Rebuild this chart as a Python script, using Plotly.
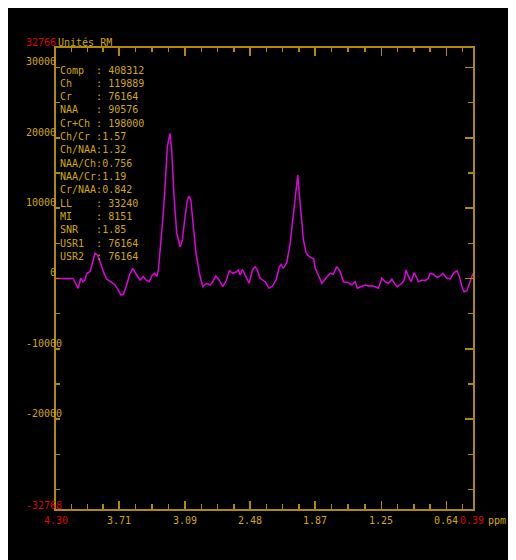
import plotly.graph_objects as go

# ---------------- data ----------------
ppm = [4.300, 4.141, 4.091, 4.068, 4.050, 4.028, 4.012, 3.981, 3.959, 3.934,
       3.913, 3.887, 3.856, 3.824, 3.787, 3.747, 3.716, 3.690, 3.669, 3.637,
       3.612, 3.580, 3.543, 3.512, 3.481, 3.456, 3.425, 3.402, 3.378, 3.355,
       3.340, 3.324, 3.299, 3.277, 3.256, 3.231, 3.215, 3.193, 3.168, 3.137,
       3.115, 3.090, 3.068, 3.052, 3.036, 3.018, 2.987, 2.956, 2.924, 2.886,
       2.855, 2.830, 2.802, 2.771, 2.736, 2.705, 2.674, 2.642, 2.611, 2.590,
       2.574, 2.552, 2.527, 2.489, 2.458, 2.433, 2.412, 2.386, 2.339, 2.302,
       2.271, 2.236, 2.205, 2.189, 2.168, 2.136, 2.105, 2.074, 2.051, 2.033,
       2.011, 1.980, 1.955, 1.933, 1.901, 1.884, 1.870, 1.839, 1.807, 1.777,
       1.730, 1.699, 1.667, 1.636, 1.605, 1.558, 1.526, 1.495, 1.474, 1.442,
       1.401, 1.370, 1.338, 1.307, 1.277, 1.245, 1.214, 1.183, 1.151, 1.120,
       1.098, 1.057, 1.035, 1.017, 0.995, 0.970, 0.942, 0.916, 0.901, 0.869,
       0.838, 0.808, 0.792, 0.761, 0.729, 0.698, 0.672, 0.635, 0.604, 0.573,
       0.541, 0.517, 0.494, 0.473, 0.447, 0.423, 0.400, 0.390]

intensity = [0, 0, -1390, 70, -460, -210, 740, 970, 2160, 3580,
             3340, 2390, 970, -110, -460, -920, -1640, -2350, -2250, -920,
             500, 1450, 500, -210, 260, -210, -460, 360, 740, 260,
             1210, 3580, 8320, 13050, 18740, 20640, 18270, 11630, 6430, 4520,
             5470, 8790, 11160, 11730, 11160, 8320, 3580, 740, -1170, -680,
             -920, -460, 360, -210, -1170, -360, 1110, 740, 920, 1210,
             500, 1280, 500, -680, 1210, 1680, 1210, 30, -460, -1390,
             -1070, -210, 1680, 1990, 1420, 2280, 4900, 9270, 13050, 14710,
             10700, 5470, 3630, 3200, 2910, 2840, 1490, 500, -680, -110,
             740, 600, 1680, 970, -460, -600, -920, -460, -1390, -1170,
             -920, -1070, -1020, -1170, -1390, 30, -460, -680, -110, -830,
             -1170, -680, -210, 1210, 260, -460, 830, 30, -460, -210,
             -310, 30, 740, 600, 170, 360, 740, 30, -70, 740,
             1110, 260, -1170, -1880, -1730, -680, 500, 710]

x_range = [4.30, 0.39]
y_range = [-32768, 32766]
x_tick_labels = ["3.71", "3.09", "2.48", "1.87", "1.25", "0.64"]
y_tick_labels = ["30000", "20000", "10000", "0", "-10000", "-20000"]

info_labels = ["Comp  : 408312", "Ch    : 119889", "Cr    : 76164", "NAA   : 90576",
               "Cr+Ch : 198000", "Ch/Cr :1.57", "Ch/NAA:1.32", "NAA/Ch:0.756",
               "NAA/Cr:1.19", "Cr/NAA:0.842", "LL    : 33240", "MI    : 8151",
               "SNR   :1.85", "USR1  : 76164", "USR2  : 76164"]

unit_label = "Unités RM"
x_unit = "ppm"

# ---------------- style ----------------
# the page body adds an 8 px margin; reference pixel coords are mapped accordingly
OFF = 8
W, H = 516 - OFF, 560 - OFF
L, R, T, B = 56, 473, 48, 509          # plot frame in reference pixels
GOLD_TXT = "#D2A800"
GOLD_LINE = "#B08A00"
RED = "#DC0000"
MAG = "#E000E0"
FONT = "DejaVu Sans Mono"
FS = 10


def px(X):
    return (X - L) / (R - L)


def py(Y):
    return (B - Y) / (B - T)


x_major = [float(v) for v in x_tick_labels]
bounds = [x_range[0]] + x_major
x_minor = []
for a, b in zip(bounds[:-1], bounds[1:]):
    for k in (1, 2, 3):
        x_minor.append(a + (b - a) * k / 4)
step = x_major[-2] - x_major[-1]
x_minor.append(x_major[-1] - step / 4)

y_major = [float(v) for v in y_tick_labels]
y_minor = [v + 5000 for v in range(-30000, 30000, 10000)] + [-30000]

fig = go.Figure()
fig.add_trace(go.Scatter(x=ppm, y=intensity, mode="lines",
                         line=dict(color=MAG, width=1.5),
                         hoverinfo="skip", showlegend=False))
fig.add_trace(go.Scatter(x=[], y=[], xaxis="x2", yaxis="y2",
                         hoverinfo="skip", showlegend=False))

common = dict(showgrid=False, zeroline=False, showline=True, linecolor=GOLD_LINE,
              linewidth=2, ticks="inside", tickcolor=GOLD_LINE, tickwidth=1.5,
              showticklabels=False, fixedrange=True)

fig.update_layout(
    width=W, height=H,
    margin=dict(l=L - OFF, r=516 - R, t=T - OFF, b=560 - B, pad=0),
    paper_bgcolor="black", plot_bgcolor="black",
    showlegend=False, hovermode=False,
    xaxis=dict(range=x_range, tickmode="array", tickvals=x_major, ticklen=8,
               minor=dict(tickmode="array", tickvals=x_minor, ticklen=5,
                          ticks="inside", tickcolor=GOLD_LINE, tickwidth=1.5),
               side="bottom", **common),
    xaxis2=dict(range=x_range, overlaying="x", side="top", anchor="y",
                tickmode="array", tickvals=x_major, ticklen=8,
                minor=dict(tickmode="array", tickvals=x_minor, ticklen=4,
                           ticks="inside", tickcolor=GOLD_LINE, tickwidth=1.5),
                **common),
    yaxis=dict(range=y_range, tickmode="array", tickvals=y_major, ticklen=4,
               minor=dict(tickmode="array", tickvals=y_minor, ticklen=4,
                          ticks="inside", tickcolor=GOLD_LINE, tickwidth=1.5),
               side="left", **common),
    yaxis2=dict(range=y_range, overlaying="y", side="right", anchor="x",
                tickmode="array", tickvals=y_major, ticklen=8,
                minor=dict(tickmode="array", tickvals=y_minor, ticklen=5,
                           ticks="inside", tickcolor=GOLD_LINE, tickwidth=1.5),
                **common),
)

ann = []


def txt(text, color, **kw):
    d = dict(text=text, showarrow=False, font=dict(family=FONT, size=FS, color=color),
             borderpad=0, borderwidth=0)
    d.update(kw)
    ann.append(d)


# info block
for i, s in enumerate(info_labels):
    txt(s.replace(" ", "\u00a0"), GOLD_TXT, xref="paper", yref="paper",
        x=px(60), y=py(70 + 13.33 * i), xanchor="left", yanchor="middle")

# y tick labels
for s, v in zip(y_tick_labels, y_major):
    xr = 62 if v < 0 else 55.5
    txt(s, GOLD_TXT, xref="paper", yref="y", x=px(xr), y=v, yshift=5.5,
        xanchor="right", yanchor="middle")
txt(str(y_range[1]), RED, xref="paper", yref="y", x=px(55.5), y=y_range[1],
    yshift=6, xanchor="right", yanchor="middle")
txt(str(y_range[0]), RED, xref="paper", yref="y", x=px(62), y=y_range[0],
    yshift=4, xanchor="right", yanchor="middle")
txt(unit_label, GOLD_TXT, xref="paper", yref="y", x=px(58), y=y_range[1],
    yshift=6, xanchor="left", yanchor="middle")

# x tick labels
for s, v in zip(x_tick_labels, x_major):
    txt(s, GOLD_TXT, xref="x", yref="paper", x=v, y=py(520.5),
        xanchor="center", yanchor="middle")
txt("%.2f" % x_range[0], RED, xref="x", yref="paper", x=x_range[0], y=py(520.5),
    xanchor="center", yanchor="middle")
txt("%.2f" % x_range[1], RED, xref="paper", yref="paper", x=px(460), y=py(520.5),
    xanchor="left", yanchor="middle")
txt(x_unit, GOLD_TXT, xref="paper", yref="paper", x=px(487.5), y=py(520.5),
    xanchor="left", yanchor="middle")

fig.update_layout(annotations=ann)

fig.write_html("out.html", config={"displayModeBar": False, "staticPlot": True})
